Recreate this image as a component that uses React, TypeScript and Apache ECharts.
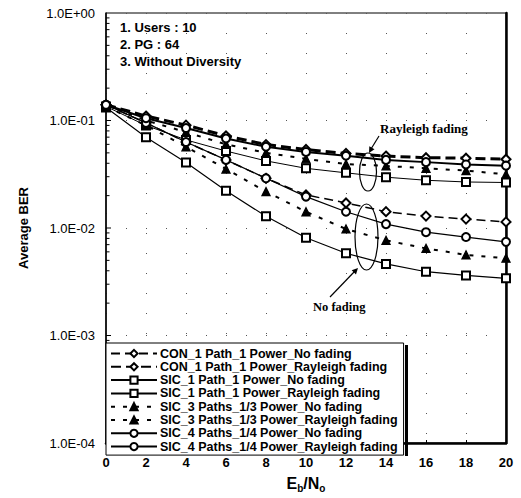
import React, { useEffect, useRef } from "react";
import * as echarts from "echarts";

const xValues = [0, 2, 4, 6, 8, 10, 12, 14, 16, 18, 20];
const xTickLabels = ["0", "2", "4", "6", "8", "10", "12", "14", "16", "18", "20"];

const conNoFading = [0.14, 0.095, 0.063, 0.043, 0.029, 0.0203, 0.0171, 0.0142, 0.0129, 0.0121, 0.0114];
const conRayleigh = [0.14, 0.11, 0.0905, 0.072, 0.0597, 0.0537, 0.0494, 0.0467, 0.0451, 0.0446, 0.0436];
const sic1NoFading = [0.132, 0.0699, 0.0406, 0.0222, 0.01284, 0.00812, 0.00582, 0.00463, 0.00392, 0.00362, 0.0034];
const sic1Rayleigh = [0.135, 0.09, 0.066, 0.052, 0.0421, 0.0359, 0.0326, 0.0297, 0.0278, 0.0268, 0.0265];
const sic3NoFading = [0.135, 0.09, 0.057, 0.0354, 0.0218, 0.01416, 0.0098, 0.00767, 0.00646, 0.00562, 0.00524];
const sic3Rayleigh = [0.14, 0.1, 0.078, 0.06, 0.05, 0.044, 0.0393, 0.0378, 0.0359, 0.0342, 0.0315];
const sic4NoFading = [0.14, 0.095, 0.063, 0.043, 0.029, 0.0196, 0.01416, 0.01087, 0.00914, 0.00824, 0.00743];
const sic4Rayleigh = [0.14, 0.105, 0.085, 0.068, 0.057, 0.051, 0.047, 0.043, 0.041, 0.039, 0.038];

const seriesNames = [
  "CON_1 Path_1 Power_No fading",
  "CON_1 Path_1 Power_Rayleigh fading",
  "SIC_1 Path_1 Power_No fading",
  "SIC_1 Path_1 Power_Rayleigh fading",
  "SIC_3 Paths_1/3 Power_No fading",
  "SIC_3 Paths_1/3 Power_Rayleigh fading",
  "SIC_4 Paths_1/4 Power_No fading",
  "SIC_4 Paths_1/4 Power_Rayleigh fading",
];

const decades = [1e-4, 1e-3, 1e-2, 1e-1];
const minorMultipliers = [2, 3, 4, 5, 6, 7, 8, 9];

const infoLines = ["1. Users : 10", "2. PG : 64", "3. Without Diversity"];

const SANS = "'Liberation Sans', Arial, sans-serif";
const SERIF = "'Liberation Serif', 'Times New Roman', serif";

function fmtExp(v: number) {
  const e = Math.round(Math.log10(v));
  const a = Math.abs(e);
  return "1.0E" + (e < 0 ? "-" : "+") + (a < 10 ? "0" + a : String(a));
}

export default function App() {
  const ref = useRef<HTMLDivElement>(null);
  useEffect(() => {
    if (!ref.current) return;
    const chart = echarts.init(ref.current, undefined, { renderer: "svg" });

    const mk = (
      name: string,
      vals: number[],
      symbol: string,
      width: number,
      type: any,
      symbolSize = 8
    ) => ({
      name,
      type: "line",
      data: xValues.map((x, i) => [x, vals[i]]),
      symbol,
      symbolSize,
      showSymbol: true,
      lineStyle: { color: "#000", width, type },
      itemStyle: { color: "#000", borderColor: "#000", borderWidth: 1.3 },
      z: 3,
    });

    const minorTicks: number[][] = [];
    decades.forEach((d) => {
      minorTicks.push([0, d, 5]);
      minorMultipliers.forEach((m) => minorTicks.push([0, d * m, 3.5]));
    });

    const option: any = {
      animation: false,
      textStyle: { fontFamily: SANS },
      grid: {
        left: 106,
        right: 15,
        top: 13,
        bottom: 43,
        show: true,
        borderColor: "#000",
        borderWidth: 1,
      },
      legend: {
        orient: "vertical",
        left: 106,
        top: 343,
        data: seriesNames,
        itemWidth: 46,
        itemHeight: 9,
        itemGap: 0.3,
        padding: [4, 6, 2, 4],
        backgroundColor: "#fff",
        borderColor: "#000",
        borderWidth: 1,
        borderRadius: 0,
        textStyle: {
          fontFamily: SANS,
          fontSize: 12.5,
          fontWeight: "bold",
          color: "#000",
          lineHeight: 11,
          padding: [0, 0, 0, -2],
        },
        z: 10,
      },
      xAxis: {
        type: "value",
        min: 0,
        max: 20,
        interval: 2,
        name: "{a|E}{b|b}{a|/N}{b|o}",
        nameLocation: "middle",
        nameGap: 30,
        nameTextStyle: {
          rich: {
            a: { fontSize: 16, fontWeight: "bold", fontFamily: SANS, color: "#000", lineHeight: 20, verticalAlign: "middle" },
            b: { fontSize: 10, fontWeight: "bold", fontFamily: SANS, color: "#000", lineHeight: 20, verticalAlign: "bottom" },
          },
        },
        axisLine: { show: true, lineStyle: { color: "#000", width: 2.5 } },
        axisTick: { show: true, inside: true, length: 3, lineStyle: { color: "#000" } },
        axisLabel: {
          fontSize: 13,
          fontWeight: "bold",
          color: "#000",
          margin: 13,
          fontFamily: SANS,
          formatter: (v: number) => xTickLabels[xValues.indexOf(v)] ?? String(v),
        },
        splitLine: { show: true, lineStyle: { color: "#555", width: 1, type: [1, 19] } },
      },
      yAxis: [
        {
          type: "log",
          logBase: 10,
          min: 1e-4,
          max: 1,
          splitNumber: 4,
          name: "Average BER",
          nameLocation: "middle",
          nameRotate: 90,
          nameGap: 76,
          nameTextStyle: { fontSize: 13, fontWeight: "bold", color: "#000", fontFamily: SANS },
          axisLine: { show: true, lineStyle: { color: "#000", width: 1.5 } },
          axisTick: { show: false },
          axisLabel: {
            fontSize: 13,
            color: "#000",
            margin: 11,
            fontFamily: SANS,
            formatter: (v: number) => fmtExp(v),
          },
          splitLine: { show: true, lineStyle: { color: "#555", width: 1, type: [1, 19] } },
        },
        {
          type: "log",
          logBase: 10,
          min: 1e-4,
          max: 1,
          position: "right",
          axisLine: { show: true, lineStyle: { color: "#000", width: 2.5 } },
          axisTick: { show: false },
          axisLabel: { show: false },
          splitLine: { show: false },
        },
      ],
      series: [
        mk(seriesNames[0], conNoFading, "emptyDiamond", 1.5, [9, 5], 9),
        mk(seriesNames[1], conRayleigh, "emptyDiamond", 3, [10, 5], 9),
        mk(seriesNames[2], sic1NoFading, "emptyRect", 1.2, "solid", 8),
        mk(seriesNames[3], sic1Rayleigh, "emptyRect", 1, "solid", 8),
        mk(seriesNames[4], sic3NoFading, "triangle", 2, [4, 8], 8),
        mk(seriesNames[5], sic3Rayleigh, "triangle", 2, [4, 8], 8),
        mk(seriesNames[6], sic4NoFading, "emptyCircle", 1.2, "solid", 8),
        mk(seriesNames[7], sic4Rayleigh, "emptyCircle", 2, "solid", 8),
        {
          name: "ticks",
          type: "custom",
          silent: true,
          z: 5,
          data: minorTicks,
          encode: { x: 0, y: 1 },
          renderItem: (params: any, api: any) => {
            const p = api.coord([0, api.value(1)]);
            const len = api.value(2);
            return {
              type: "line",
              shape: { x1: p[0], y1: p[1], x2: p[0] + len, y2: p[1] },
              style: { stroke: "#000", lineWidth: 1 },
            };
          },
        },
      ],
      graphic: [
        ...infoLines.map((t, i) => ({
          type: "text",
          left: 120,
          top: 21 + i * 17,
          style: { text: t, fontSize: 13, fontWeight: "bold", fontFamily: SANS, fill: "#000" },
          z: 20,
        })),
        {
          type: "text",
          x: 380,
          y: 122,
          style: { text: "Rayleigh fading", fontSize: 13, fontWeight: "bold", fontFamily: SERIF, fill: "#000" },
          z: 20,
        },
        {
          type: "text",
          x: 313,
          y: 300,
          style: { text: "No fading", fontSize: 12.5, fontWeight: "bold", fontFamily: SERIF, fill: "#000" },
          z: 20,
        },
        {
          type: "ellipse",
          shape: { cx: 368, cy: 172, rx: 8.5, ry: 19 },
          style: { fill: "none", stroke: "#000", lineWidth: 1.2 },
          z: 20,
        },
        {
          type: "ellipse",
          shape: { cx: 366.5, cy: 237, rx: 11.5, ry: 33 },
          style: { fill: "none", stroke: "#000", lineWidth: 1.2 },
          z: 20,
        },
        {
          type: "line",
          shape: { x1: 379, y1: 136, x2: 371, y2: 149 },
          style: { stroke: "#000", lineWidth: 1.2 },
          z: 20,
        },
        {
          type: "polygon",
          shape: { points: [[369, 153], [374.5, 149.3], [369.3, 146.3]] },
          style: { fill: "#000" },
          z: 20,
        },
        {
          type: "line",
          shape: { x1: 330, y1: 297, x2: 355, y2: 271 },
          style: { stroke: "#000", lineWidth: 1.2 },
          z: 20,
        },
        {
          type: "polygon",
          shape: { points: [[358, 268], [356, 274.4], [351.7, 270.2]] },
          style: { fill: "#000" },
          z: 20,
        },
        {
          type: "rect",
          shape: { x: 405, y: 345, width: 3, height: 111 },
          style: { fill: "#000" },
          z: 20,
        },
      ],
    };

    chart.setOption(option);
    return () => chart.dispose();
  }, []);

  return <div ref={ref} style={{ width: 521, height: 498, position: "absolute", left: 0, top: 0 }} />;
}
